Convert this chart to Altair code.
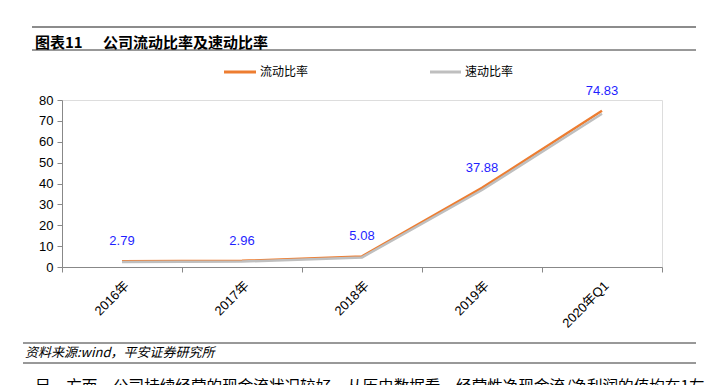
import altair as alt
import pandas as pd

categories = ["2016年", "2017年", "2018年", "2019年", "2020年Q1"]
current_ratio = [2.79, 2.96, 5.08, 37.88, 74.83]
quick_ratio = [2.45, 2.60, 4.60, 36.90, 73.40]
series_names = ["流动比率", "速动比率"]
series_colors = ["#ED7D31", "#BFBFBF"]
y_ticks = [0, 10, 20, 30, 40, 50, 60, 70, 80]

FONT = "Liberation Sans, Arial, Noto Sans CJK SC"
CJK = "Noto Sans CJK SC"

rows = []
for c, v in zip(categories, current_ratio):
    rows.append({"cat": c, "val": v, "series": series_names[0]})
for c, v in zip(categories, quick_ratio):
    rows.append({"cat": c, "val": v, "series": series_names[1]})
df = pd.DataFrame(rows)

x_enc = alt.X(
    "cat:N",
    sort=categories,
    scale=alt.Scale(paddingInner=0, paddingOuter=0),
    axis=alt.Axis(
        title=None, labelAngle=-45, labelAlign="right", labelBaseline="top",
        labelPadding=7, tickBand="extent", tickSize=5, domainColor="#888888",
        tickColor="#888888", labelFont=FONT, labelFontSize=13, labelColor="#000000",
        grid=False, labelOverlap=False,
    ),
)
y_enc = alt.Y(
    "val:Q",
    scale=alt.Scale(domain=[0, 80], nice=False),
    axis=alt.Axis(
        title=None, values=y_ticks, tickSize=5, labelPadding=4, domainColor="#888888",
        tickColor="#888888", labelFont=FONT, labelFontSize=13, labelColor="#000000",
        grid=False, labelOverlap=False, labelFlush=False,
    ),
)

base = alt.Chart(df)
lines = base.mark_line(strokeWidth=2.5).encode(
    x=x_enc, y=y_enc,
    color=alt.Color("series:N", scale=alt.Scale(domain=series_names, range=series_colors), legend=None),
    order=alt.Order("cat:N"),
)
labels = base.transform_filter(alt.datum.series == series_names[0]).mark_text(
    dy=-20, color="#1F1FFF", font=FONT, fontSize=13
).encode(x=x_enc, y=y_enc, text=alt.Text("val:Q", format=".2f"))

one = alt.Chart(pd.DataFrame({"a": [0]}))

def hline(x1, x2, y, color, w):
    return one.mark_rule(color=color, strokeWidth=w).encode(
        x=alt.value(x1), x2=alt.value(x2), y=alt.value(y))

def txt(s, x, y, size, bold=False, italic=False, color="#000000", baseline="middle", font=CJK):
    kw = {}
    if bold:
        kw["fontWeight"] = "bold"
    if italic:
        kw["fontStyle"] = "italic"
    return one.mark_text(text=s, align="left", baseline=baseline, fontSize=size,
                         font=font, color=color, **kw).encode(x=alt.value(x), y=alt.value(y))

# page coords -> relative coords: x-62, y-100
deco = [
    hline(-30, 634, -73, "#8C8C8C", 2),
    txt("图表11", -27, -57, 15, bold=True),
    txt("公司流动比率及速动比率", 41, -57, 15, bold=True),
    hline(-30, 634, -50, "#333333", 1),
    hline(162, 194, -28, series_colors[0], 3),
    txt(series_names[0], 198, -28, 12),
    hline(368, 399, -28, series_colors[1], 3),
    txt(series_names[1], 403, -28, 12),
    hline(-39, 634, 243, "#333333", 1),
    txt("资料来源:wind，平安证券研究所", -37, 253, 13, italic=True),
    hline(-39, 634, 263, "#333333", 1),
    txt("另一方面，公司持续经营的现金流状况较好，从历史数据看，经营性净现金流/净利润的值均在1左",
        -27, 280, 15.6, baseline="top"),
]

chart = alt.layer(lines, labels, *deco).properties(
    width=600, height=167,
    autosize=alt.AutoSizeParams(type="none"),
    padding={"left": 54, "top": 92, "right": 45, "bottom": 120},
).configure_view(stroke=None).configure(background="#ffffff")

chart.save("out.html", embed_options={"renderer": "svg", "actions": False})
